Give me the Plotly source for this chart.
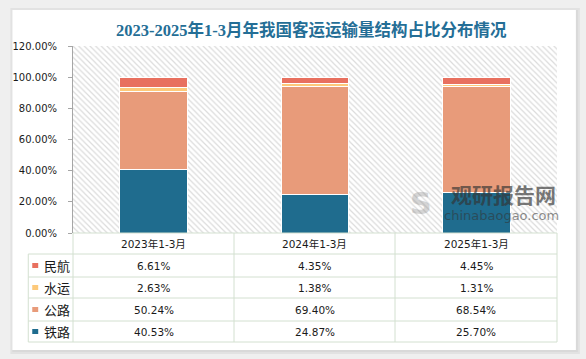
import plotly.graph_objects as go

# ---------------- data ----------------
categories = ["2023年1-3月", "2024年1-3月", "2025年1-3月"]
series_names = ["铁路", "公路", "水运", "民航"]
railway = [40.53, 24.87, 25.70]
highway = [50.24, 69.40, 68.54]
waterway = [2.63, 1.38, 1.31]
aviation = [6.61, 4.35, 4.45]
y_ticks = [0, 20, 40, 60, 80, 100, 120]
title_text = "2023-2025年1-3月年我国客运运输量结构占比分布情况"

colors = {"铁路": "#1F6C8E", "公路": "#E89B7A", "水运": "#FDC97A", "民航": "#E8705F"}
values = {"铁路": railway, "公路": highway, "水运": waterway, "民航": aviation}

W, H = 586, 359
L, R, T, B = 70, 557, 46, 233  # plot area in pixels


def px_x(x):
    return (x - L) / (R - L)


def px_y(y):
    return (B - y) / (B - T)


fig = go.Figure()

# hatched plot background on base axes
fig.add_trace(go.Scatter(
    x=[0, 1, 1, 0, 0], y=[0, 0, 1, 1, 0], mode="lines", fill="toself",
    line=dict(width=0), fillcolor="white",
    fillpattern=dict(shape="\\", fgcolor="#b8b8b8", bgcolor="white", size=4, solidity=0.3),
    hoverinfo="skip", showlegend=False, xaxis="x", yaxis="y"))

for name in series_names:
    fig.add_trace(go.Bar(
        x=categories, y=values[name], name=name, width=0.42,
        marker=dict(color=colors[name], line=dict(color="white", width=1)),
        xaxis="x2", yaxis="y2", showlegend=False))

shapes = []
# page shadow + card
for off, col in [(4, "#e2e2e2"), (2, "#d9d9d9")]:
    shapes.append(dict(type="rect", xref="paper", yref="paper", layer="below",
                       x0=px_x(9 - off + 2), x1=px_x(576 + off), y0=px_y(350 + off), y1=px_y(10 - off + 2),
                       fillcolor=col, line=dict(width=0)))
shapes.append(dict(type="rect", xref="paper", yref="paper", layer="below",
                   x0=px_x(9), x1=px_x(576), y0=px_y(350), y1=px_y(10),
                   fillcolor="white", line=dict(width=0)))

grid_col = "#D3E0D0"
row_lines = [254, 277, 298, 321, 342]
col_lines = [70, 232, 394, 557]
# top line of table (x axis)
shapes.append(dict(type="line", xref="paper", yref="paper", x0=px_x(70), x1=px_x(557),
                   y0=px_y(233), y1=px_y(233), line=dict(color=grid_col, width=1)))
for yy in row_lines:
    shapes.append(dict(type="line", xref="paper", yref="paper", x0=px_x(25), x1=px_x(557),
                       y0=px_y(yy), y1=px_y(yy), line=dict(color=grid_col, width=1)))
for xx in col_lines:
    shapes.append(dict(type="line", xref="paper", yref="paper", x0=px_x(xx), x1=px_x(xx),
                       y0=px_y(233), y1=px_y(342), line=dict(color=grid_col, width=1)))
shapes.append(dict(type="line", xref="paper", yref="paper", x0=px_x(25), x1=px_x(25),
                   y0=px_y(254), y1=px_y(342), line=dict(color=grid_col, width=1)))

annotations = []
font_num = dict(family="DejaVu Sans, Noto Sans CJK SC", size=10.5, color="#1a1a1a")
col_centers = [(col_lines[i] + col_lines[i + 1]) / 2 for i in range(3)]
for i, c in enumerate(categories):
    annotations.append(dict(x=px_x(col_centers[i]), y=px_y(243.5), xref="paper", yref="paper",
                            text=c, showarrow=False, font=font_num, xanchor="center", yanchor="middle"))

row_order = ["民航", "水运", "公路", "铁路"]
for r, name in enumerate(row_order):
    top = row_lines[r]
    bot = row_lines[r + 1] if r + 1 < len(row_lines) else 342
    yc = (top + bot) / 2
    shapes.append(dict(type="rect", xref="paper", yref="paper",
                       x0=px_x(29), x1=px_x(35), y0=px_y(yc + 2.5), y1=px_y(yc - 2.5),
                       fillcolor=colors[name], line=dict(width=0)))
    annotations.append(dict(x=px_x(39), y=px_y(yc), xref="paper", yref="paper", text=name,
                            showarrow=False, xanchor="left", yanchor="middle",
                            font=dict(family="Noto Sans CJK SC", size=13, color="#1a1a1a")))
    for i in range(3):
        annotations.append(dict(x=px_x(col_centers[i]), y=px_y(yc), xref="paper", yref="paper",
                                text=f"{values[name][i]:.2f}%", showarrow=False,
                                xanchor="center", yanchor="middle", font=font_num))

# title
annotations.append(dict(x=px_x(310), y=px_y(30), xref="paper", yref="paper", text=f"<b>{title_text}</b>",
                        showarrow=False, xanchor="center", yanchor="middle",
                        font=dict(family="Liberation Serif, Noto Sans CJK SC", size=16.5, color="#246E96")))

# watermark
annotations.append(dict(x=px_x(503), y=px_y(194), xref="paper", yref="paper", text="<b>观研报告网</b>",
                        showarrow=False, xanchor="center", yanchor="middle", opacity=0.65,
                        font=dict(family="Noto Sans CJK SC", size=21, color="#333333")))
annotations.append(dict(x=px_x(501), y=px_y(215), xref="paper", yref="paper", text="chinabaogao.com",
                        showarrow=False, xanchor="center", yanchor="middle", opacity=0.55,
                        font=dict(family="DejaVu Sans", size=13, color="#333333")))
annotations.append(dict(x=px_x(420), y=px_y(203), xref="paper", yref="paper", text="<b>S</b>",
                        showarrow=False, xanchor="center", yanchor="middle", opacity=0.3,
                        font=dict(family="DejaVu Sans", size=30, color="#777777")))

fig.update_layout(
    width=W, height=H,
    margin=dict(l=L, r=W - R, t=T, b=H - B, pad=0),
    paper_bgcolor="#efefef", plot_bgcolor="rgba(0,0,0,0)",
    barmode="stack", bargap=0.58,
    showlegend=False,
    xaxis=dict(range=[0, 1], visible=False, fixedrange=True),
    yaxis=dict(range=[0, 1], visible=False, fixedrange=True),
    xaxis2=dict(overlaying="x", showticklabels=False, showline=False, showgrid=False,
                ticks="", zeroline=False),
    yaxis2=dict(overlaying="y", side="left", range=[0, 120], tickvals=y_ticks,
                ticktext=[f"{v:.2f}%" for v in y_ticks], showgrid=False, zeroline=False,
                showline=True, linecolor="#a6a6a6", linewidth=1, ticks="outside", ticklen=4,
                tickcolor="#a6a6a6", ticklabelstandoff=9,
                tickfont=dict(family="DejaVu Sans", size=10, color="#1a1a1a")),
    shapes=shapes, annotations=annotations,
)

fig.write_html("out.html", config={"displayModeBar": False},
               post_script="document.body.style.margin='0';document.body.style.overflow='hidden';")
